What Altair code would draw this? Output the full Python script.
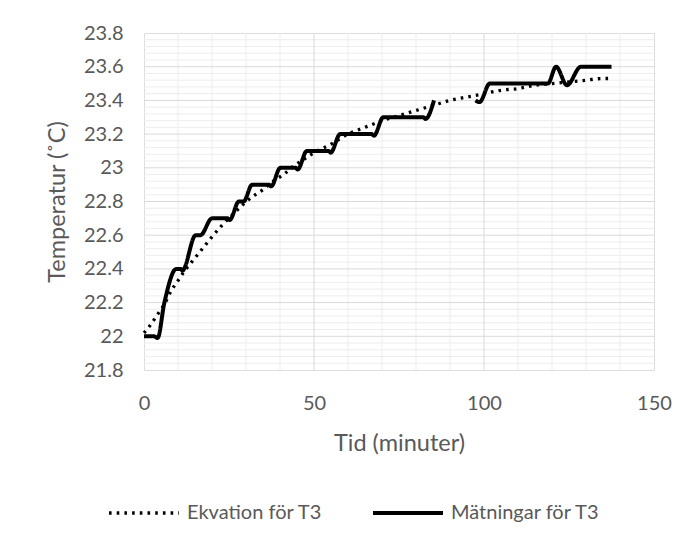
import altair as alt
import pandas as pd

# Trend ("Ekvation för T3")
trend_t = [0, 2, 4, 6, 8, 10, 12, 14, 16, 18, 20, 23, 26, 29, 32, 35, 38, 41, 44, 47,
           50, 55, 60, 65, 70, 75, 80, 85, 90, 95, 100, 105, 110, 115, 120, 125, 130, 135, 138]
trend_T = [22.02, 22.07, 22.13, 22.19, 22.27, 22.33, 22.39, 22.44, 22.49, 22.54, 22.59,
           22.66, 22.72, 22.78, 22.83, 22.87, 22.92, 22.96, 23.01, 23.05,
           23.09, 23.14, 23.20, 23.24, 23.28, 23.31, 23.34, 23.37, 23.40, 23.42,
           23.44, 23.46, 23.47, 23.49, 23.50, 23.51, 23.52, 23.53, 23.53]

# Measurements ("Mätningar för T3"), first part (before the gap)
meas1_t = [0, 3, 4, 6, 9.5, 10.8, 11.3, 15.2, 16.6, 20, 24.6, 25.2, 27.9, 29.3, 31.8,
           36.8, 37.4, 40.1, 44.6, 45.2, 47.9, 54.3, 54.9, 57.7, 67.0, 67.6, 70.4,
           82.2, 82.8, 85.3]
meas1_T = [22.0, 22.0, 21.99, 22.2, 22.4, 22.4, 22.39, 22.6, 22.6, 22.7, 22.7, 22.69,
           22.8, 22.8, 22.9, 22.9, 22.89, 23.0, 23.0, 22.99, 23.1, 23.1, 23.09, 23.2,
           23.2, 23.19, 23.3, 23.3, 23.29, 23.4]
# Measurements, second part (after the gap)
meas2_t = [97.5, 98.7, 101.7, 118.8, 121.2, 124.4, 128.5, 137.5]
meas2_T = [23.4, 23.39, 23.5, 23.5, 23.6, 23.49, 23.6, 23.6]

series_names = ["Ekvation för T3", "Mätningar för T3"]

x_ticks = [0, 50, 100, 150]
x_minor = [10, 20, 30, 40, 60, 70, 80, 90, 110, 120, 130, 140]
x_major = [50, 100]
y_major = [22.0, 22.2, 22.4, 22.6, 22.8, 23.0, 23.2, 23.4, 23.6]
y_ticks = [21.8, 22.0, 22.2, 22.4, 22.6, 22.8, 23.0, 23.2, 23.4, 23.6, 23.8]
y_minor = [round(21.8 + 0.04 * i, 2) for i in range(1, 50)]
y_minor = [v for v in y_minor if all(abs(v - m) > 1e-6 for m in y_ticks)]

df = pd.concat([
    pd.DataFrame({"t": trend_t, "T": trend_T, "series": series_names[0], "seg": "e"}),
    pd.DataFrame({"t": meas1_t, "T": meas1_T, "series": series_names[1], "seg": "m1"}),
    pd.DataFrame({"t": meas2_t, "T": meas2_T, "series": series_names[1], "seg": "m2"}),
])

FONT = "Lato"
GREY = "#595959"

xscale = alt.Scale(domain=[0, 150], nice=False)
yscale = alt.Scale(domain=[21.8, 23.8], nice=False, zero=False)

xaxis = alt.Axis(
    values=x_ticks, title="Tid (minuter)", grid=False, ticks=False, domain=False,
    labelFlush=False, labelFont=FONT, labelFontSize=20, labelColor=GREY,
    labelPadding=23, titleFont=FONT, titleFontSize=23.5, titleColor=GREY,
    titleFontWeight="normal", titleY=80, titleBaseline="alphabetic")
yaxis = alt.Axis(
    values=y_ticks, format=".1~f", title="Temperatur (˚C)", grid=False, ticks=False,
    domain=False, labelFlush=False, labelFont=FONT, labelFontSize=20, labelColor=GREY,
    labelPadding=21, titleFont=FONT, titleFontSize=23.5, titleColor=GREY,
    titleFontWeight="normal", titleX=-80, titleBaseline="alphabetic")


def vrules(vals, color):
    return alt.Chart(pd.DataFrame({"t": vals})).mark_rule(color=color, strokeWidth=1).encode(
        x=alt.X("t:Q", scale=xscale, axis=xaxis))


def hrules(vals, color):
    return alt.Chart(pd.DataFrame({"T": vals})).mark_rule(color=color, strokeWidth=1).encode(
        y=alt.Y("T:Q", scale=yscale, axis=yaxis))


legend = alt.Legend(
    title=None, orient="none", legendX=-37, legendY=443, direction="horizontal",
    symbolType="stroke", symbolSize=4900, symbolStrokeColor="black",
    labelFont=FONT, labelFontSize=20, labelColor=GREY, labelOffset=6,
    columnPadding=42, labelLimit=300,
)

lines = alt.Chart(df).mark_line(interpolate="monotone", color="black").encode(
    x=alt.X("t:Q", scale=xscale, axis=xaxis),
    y=alt.Y("T:Q", scale=yscale, axis=yaxis),
    strokeDash=alt.StrokeDash("series:N", scale=alt.Scale(
        domain=series_names, range=[[2.6, 5.1], [1, 0]]), legend=legend),
    strokeWidth=alt.StrokeWidth("series:N", scale=alt.Scale(
        domain=series_names, range=[3.3, 4]), legend=legend),
    detail="seg:N",
)

chart = alt.layer(
    vrules(x_minor, "#ededed"),
    hrules(y_minor, "#ededed"),
    vrules(x_major, "#d9d9d9"),
    hrules(y_major, "#d9d9d9"),
    lines,
).properties(
    width=510, height=337,
    autosize=alt.AutoSizeParams(type="none"),
    padding={"left": 136, "top": 25, "right": 28, "bottom": 160},
).configure_view(stroke="#d9d9d9", strokeWidth=1).configure(background="white")

chart.save("out.html", embed_options={"renderer": "svg", "actions": False})
